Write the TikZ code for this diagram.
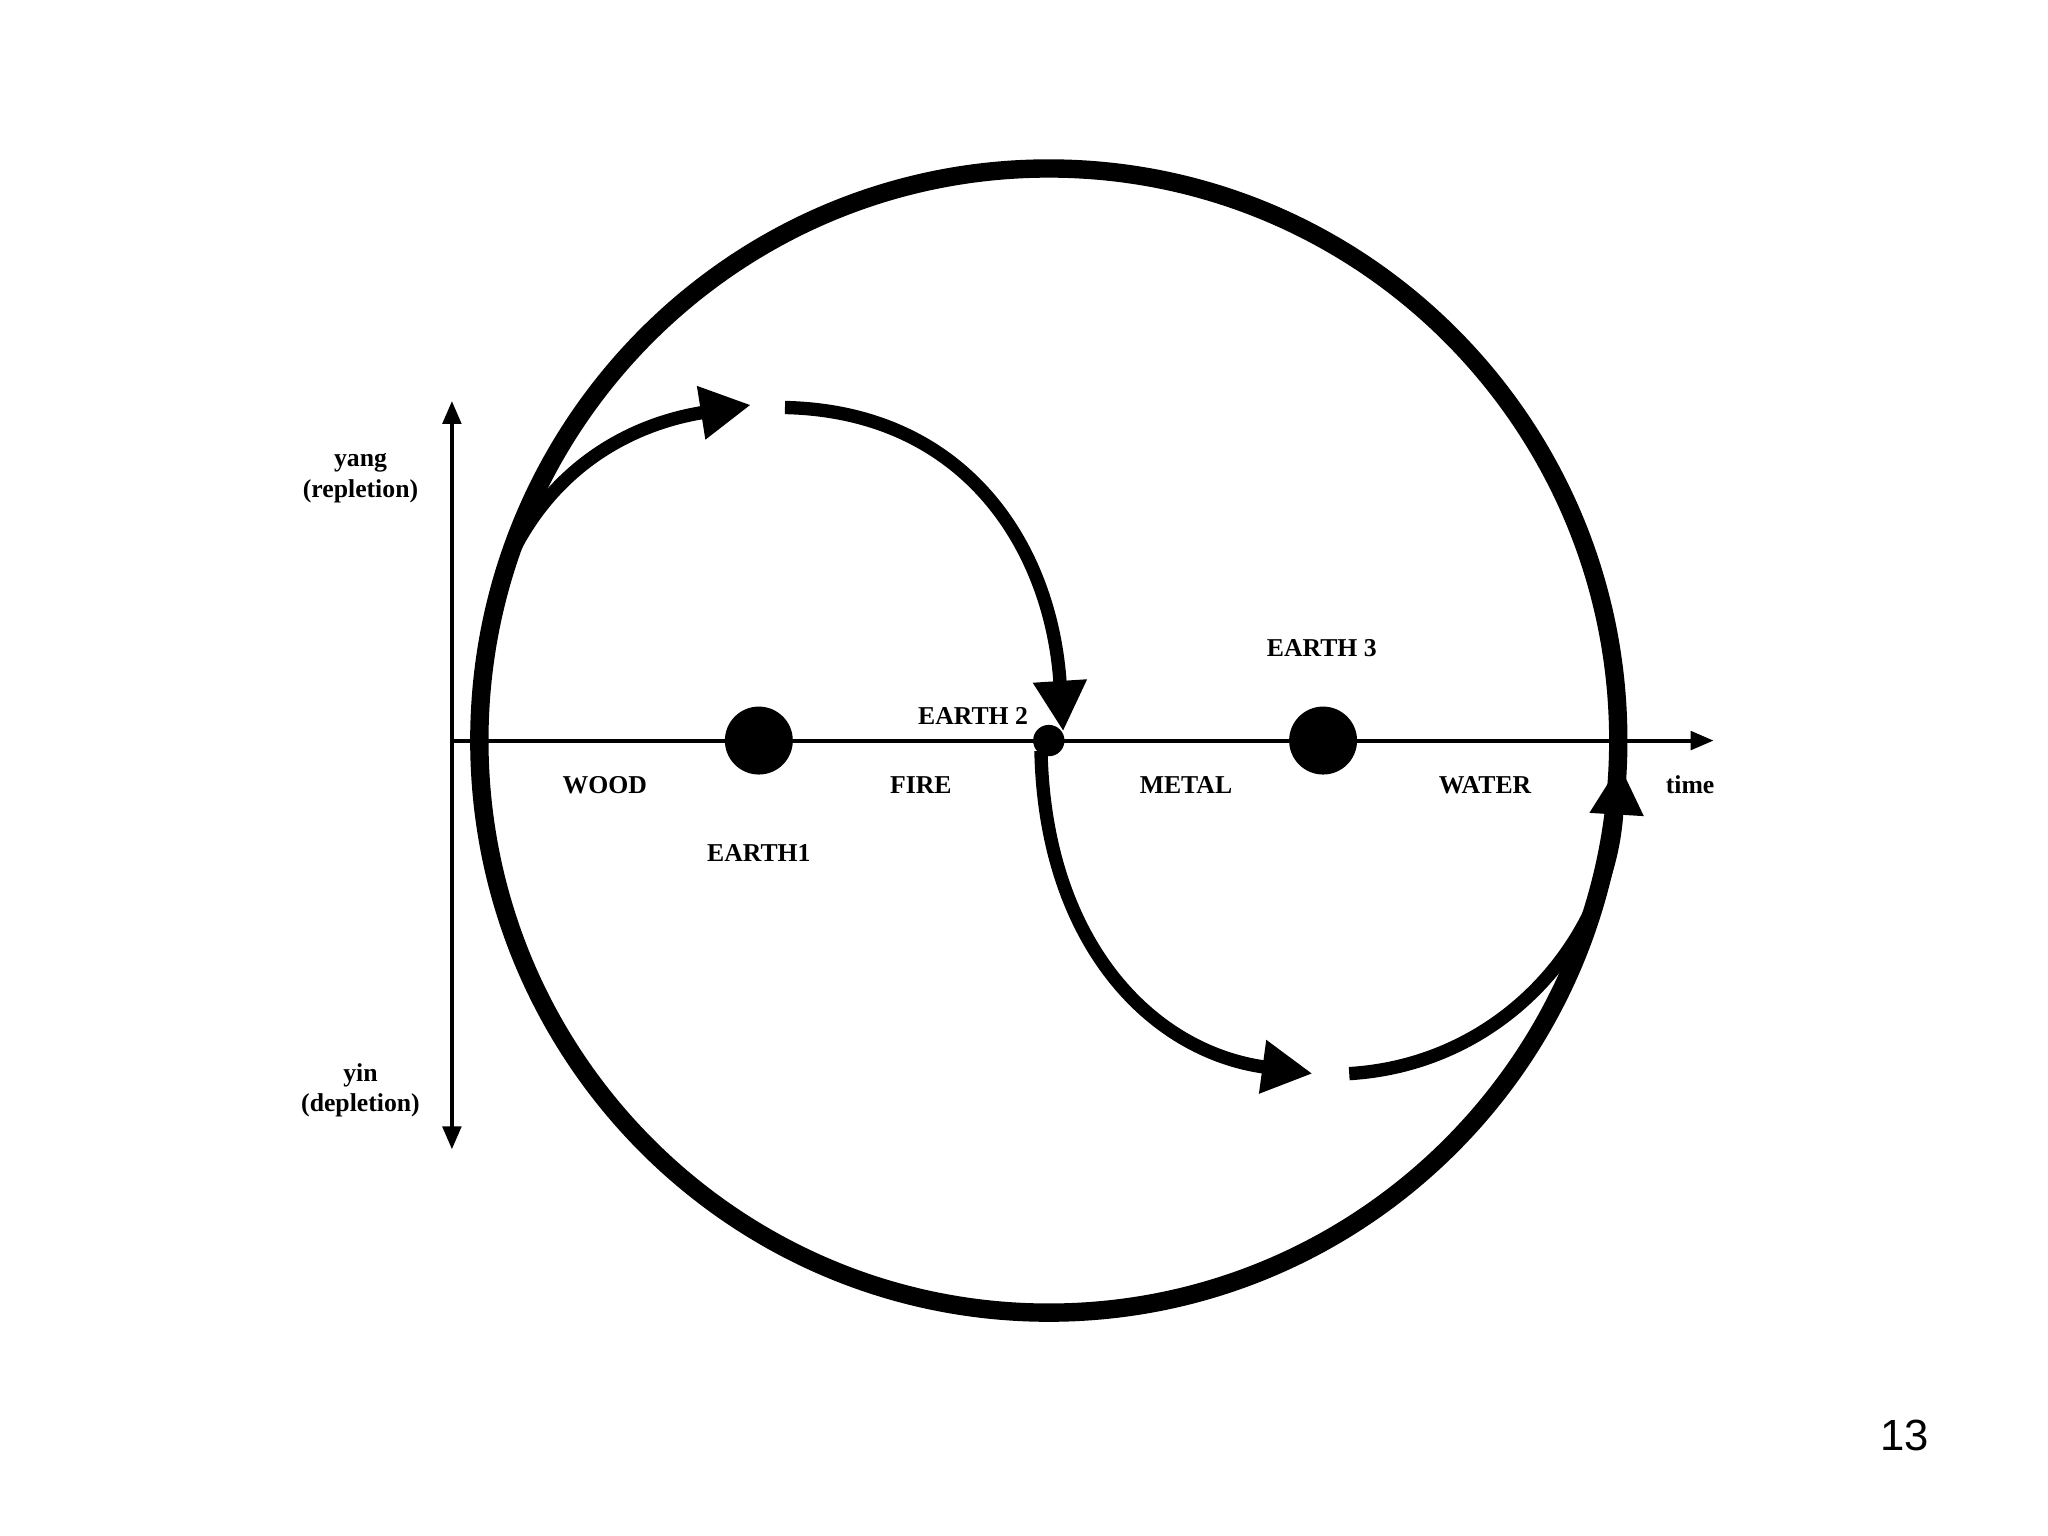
\documentclass[tikz,border=0pt]{standalone}
\usepackage{fontspec}
\setmainfont{Liberation Serif}
\newfontfamily\numfont{Liberation Sans}
\usetikzlibrary{arrows.meta}
\begin{document}
\begin{tikzpicture}[x=0.01cm,y=-0.01cm,
  lab/.style={font=\fontsize{5.6}{6.6}\selectfont\bfseries,align=center},
  axis/.style={line width=0.9pt},
  flow/.style={line width=2.9pt,-{Triangle[length=11pt,width=11pt]}},
  dot/.style={circle,fill=black,inner sep=0pt}]
\useasboundingbox (0,0) rectangle (1568,1176);
\draw[line width=4pt] (803,567) ellipse [x radius=436, y radius=438];
\coordinate (vt) at (346,307); \coordinate (vb) at (346,880);
\coordinate (h0) at (346,567); \coordinate (h1) at (1312,567);
\draw[axis,{Triangle[length=5pt,width=4pt]}-{Triangle[length=5pt,width=4pt]}] (vb) -- (vt);
\draw[axis,-{Triangle[length=5pt,width=4pt]}] (h0) -- (h1);
\node[dot,minimum size=52*0.2845pt] (e1) at (581,567) {};
\node[dot,minimum size=52*0.2845pt] (e3) at (1013,567) {};
\node[dot,minimum size=24*0.2845pt] (e2) at (803,567) {};
\coordinate (a1s) at (388,432); \coordinate (a1e) at (575,310);
\coordinate (a2s) at (601,312); \coordinate (a2e) at (814,560);
\coordinate (a3s) at (797,575); \coordinate (a3e) at (1005,822);
\coordinate (a4s) at (1033,822); \coordinate (a4e) at (1240,585);
\draw[flow] (a1s) .. controls (420,360) and (480,325) .. (a1e);
\draw[flow] (a2s) .. controls (740,315) and (805,420) .. (a2e);
\draw[flow] (a3s) .. controls (800,720) and (880,805) .. (a3e);
\draw[flow] (a4s) .. controls (1150,815) and (1232,720) .. (a4e);
\node[lab] (yang) at (276,366) {yang\\(repletion)};
\node[lab] (yin) at (276,835) {yin\\(depletion)};
\node[lab] (wood) at (463,601) {WOOD};
\node[lab] (fire) at (705,601) {FIRE};
\node[lab] (metal) at (908,601) {METAL};
\node[lab] (water) at (1137,601) {WATER};
\node[lab] (time) at (1294,601) {time};
\node[lab] (l1) at (581,653) {EARTH1};
\node[lab] (l2) at (745,548) {EARTH 2};
\node[lab] (l3) at (1012,496) {EARTH 3};
\node[font=\numfont\fontsize{9.5}{11}\selectfont] (pg) at (1458,1099) {13};
\end{tikzpicture}
\end{document}
